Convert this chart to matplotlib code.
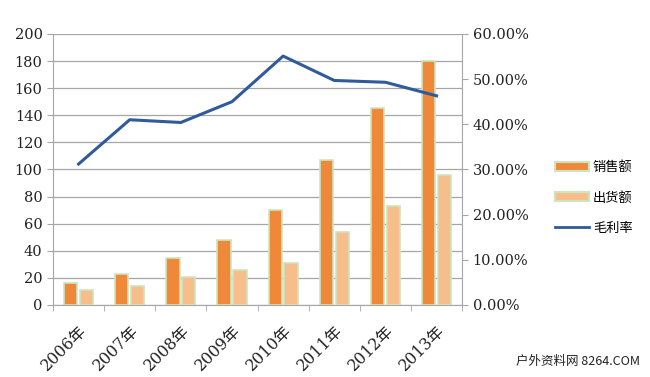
import matplotlib
matplotlib.use("Agg")
import matplotlib.pyplot as plt
import numpy as np
from matplotlib.patches import Patch
from matplotlib.lines import Line2D
from matplotlib.ticker import FuncFormatter

plt.rcParams['font.family'] = ['DejaVu Serif', 'Noto Sans CJK SC']

years = ['2006年', '2007年', '2008年', '2009年', '2010年', '2011年', '2012年', '2013年']
sales = [16, 23, 35, 48, 70, 107, 145, 180]        # 销售额
shipments = [11, 14, 21, 26, 31, 54, 73, 96]      # 出货额
margin = [31.2, 41.0, 40.4, 45.0, 55.1, 49.7, 49.3, 46.3]  # 毛利率 %

orange = '#F0883A'
light = '#F7BE8C'
edge = '#CDE5BE'
blue = '#2F5B9A'
grid = '#A6A6A6'

fig = plt.figure(figsize=(6.5, 3.77), dpi=100)
ax = fig.add_axes([0.0815, 0.191, 0.6295, 0.719])
x = np.arange(len(years))
w = 0.26
ax.bar(x - 0.155, sales, w, color=orange, edgecolor=edge, linewidth=1.2, zorder=3)
ax.bar(x + 0.155, shipments, w, color=light, edgecolor=edge, linewidth=1.2, zorder=3)

ax.set_xlim(-0.5, len(years) - 0.5)
ax.set_ylim(0, 200)
ax.set_yticks(range(0, 201, 20))
ax.yaxis.grid(True, color=grid, linewidth=0.9, zorder=0)
ax.set_xticks(x)
ax.set_xticklabels(years, rotation=45, ha='right', rotation_mode='anchor',
                   fontsize=11.5, color='#222222')
ax.set_xticks(np.arange(-0.5, len(years)), minor=True)
ax.tick_params(axis='x', which='major', length=0, pad=12)
ax.tick_params(axis='x', which='minor', length=4, color=grid)
ax.tick_params(axis='y', length=4, color=grid, labelsize=10.5, labelcolor='#222222')
for s in ['top', 'right']:
    ax.spines[s].set_visible(False)
ax.spines['left'].set_color(grid)
ax.spines['bottom'].set_color(grid)

ax2 = ax.twinx()
ax2.plot(x, margin, color=blue, linewidth=2.2, zorder=4)
ax2.set_ylim(0, 60)
ax2.set_yticks(range(0, 61, 10))
ax2.yaxis.set_major_formatter(FuncFormatter(lambda v, p: f'{v:.2f}%'))
ax2.tick_params(axis='y', length=4, color=grid, labelsize=10.5, labelcolor='#222222')
for s in ['top', 'left', 'bottom']:
    ax2.spines[s].set_visible(False)
ax2.spines['right'].set_color(grid)

handles = [Patch(facecolor=orange, edgecolor=edge, linewidth=1.5),
           Patch(facecolor=light, edgecolor=edge, linewidth=1.5),
           Line2D([0], [0], color=blue, linewidth=2)]
fig.legend(handles, ['销售额', '出货额', '毛利率'], loc='center left',
           bbox_to_anchor=(0.835, 0.475), frameon=False,
           prop={'family': 'Noto Sans CJK SC', 'size': 9.5},
           handlelength=2.6, handleheight=0.7, labelspacing=1.3, handletextpad=0.3)

fig.text(0.985, 0.025, '户外资料网 8264.COM', ha='right', va='bottom',
         fontsize=9, family=['Noto Sans CJK SC', 'DejaVu Sans Mono'], color='#222222')

fig.savefig('out.png', dpi=100)
